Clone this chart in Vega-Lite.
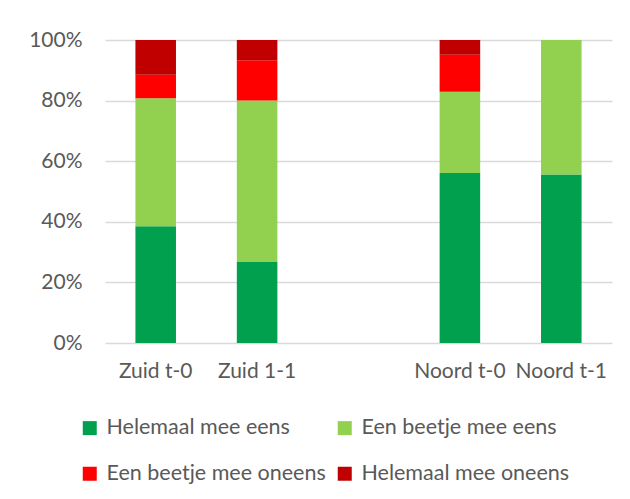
{
  "$schema": "https://vega.github.io/schema/vega-lite/v6.json",
  "width": 507,
  "height": 303,
  "autosize": {"type": "none"},
  "padding": {"left": 105, "top": 40, "right": 18, "bottom": 156},
  "background": "white",
  "config": {
    "view": {"stroke": null},
    "font": "Lato",
    "axis": {"labelFont": "Lato", "labelColor": "#595959", "gridColor": "#d9d9d9", "gridWidth": 1.5, "domainColor": "#d9d9d9", "domainWidth": 1.5},
    "legend": {"labelFont": "Lato", "labelColor": "#595959"}
  },
  "data": {
    "values": [
      {"groep": "Zuid t-0", "antwoord": "Helemaal mee eens", "aandeel": 0.385, "volgorde": 1},
      {"groep": "Zuid t-0", "antwoord": "Een beetje mee eens", "aandeel": 0.423, "volgorde": 2},
      {"groep": "Zuid t-0", "antwoord": "Een beetje mee oneens", "aandeel": 0.077, "volgorde": 3},
      {"groep": "Zuid t-0", "antwoord": "Helemaal mee oneens", "aandeel": 0.115, "volgorde": 4},
      {"groep": "Zuid 1-1", "antwoord": "Helemaal mee eens", "aandeel": 0.267, "volgorde": 1},
      {"groep": "Zuid 1-1", "antwoord": "Een beetje mee eens", "aandeel": 0.533, "volgorde": 2},
      {"groep": "Zuid 1-1", "antwoord": "Een beetje mee oneens", "aandeel": 0.133, "volgorde": 3},
      {"groep": "Zuid 1-1", "antwoord": "Helemaal mee oneens", "aandeel": 0.067, "volgorde": 4},
      {"groep": "Noord t-0", "antwoord": "Helemaal mee eens", "aandeel": 0.561, "volgorde": 1},
      {"groep": "Noord t-0", "antwoord": "Een beetje mee eens", "aandeel": 0.268, "volgorde": 2},
      {"groep": "Noord t-0", "antwoord": "Een beetje mee oneens", "aandeel": 0.122, "volgorde": 3},
      {"groep": "Noord t-0", "antwoord": "Helemaal mee oneens", "aandeel": 0.049, "volgorde": 4},
      {"groep": "Noord t-1", "antwoord": "Helemaal mee eens", "aandeel": 0.556, "volgorde": 1},
      {"groep": "Noord t-1", "antwoord": "Een beetje mee eens", "aandeel": 0.444, "volgorde": 2},
      {"groep": "Noord t-1", "antwoord": "Een beetje mee oneens", "aandeel": 0.0, "volgorde": 3},
      {"groep": "Noord t-1", "antwoord": "Helemaal mee oneens", "aandeel": 0.0, "volgorde": 4}
    ]
  },
  "mark": {"type": "bar"},
  "encoding": {
    "x": {
      "field": "groep",
      "type": "nominal",
      "scale": {"domain": ["Zuid t-0", "Zuid 1-1", " ", "Noord t-0", "Noord t-1"], "paddingInner": 0.6, "paddingOuter": 0.3},
      "axis": {"title": null, "labelAngle": 0, "labelFontSize": 21, "labelPadding": 17, "ticks": false, "tickSize": 0, "domain": false, "grid": false}
    },
    "y": {
      "field": "aandeel",
      "type": "quantitative",
      "stack": "zero",
      "scale": {"domain": [0, 1], "nice": false},
      "axis": {"title": null, "format": ".0%", "values": [0, 0.2, 0.4, 0.6, 0.8, 1], "labelFontSize": 21, "labelPadding": 23, "ticks": false, "tickSize": 0, "domain": false, "grid": true}
    },
    "color": {
      "field": "antwoord",
      "type": "nominal",
      "scale": {
        "domain": ["Helemaal mee eens", "Een beetje mee eens", "Een beetje mee oneens", "Helemaal mee oneens"],
        "range": ["#00A04F", "#92D050", "#FF0000", "#C00000"]
      },
      "legend": {
        "title": null,
        "orient": "none",
        "legendX": -26,
        "legendY": 377,
        "direction": "horizontal",
        "columns": 2,
        "symbolType": "square",
        "symbolSize": 196,
        "symbolStrokeWidth": 0,
        "labelFontSize": 21.5,
        "labelOffset": 6,
        "columnPadding": 8,
        "rowPadding": 23,
        "labelLimit": 400
      }
    },
    "order": {"field": "volgorde", "type": "quantitative"}
  }
}
